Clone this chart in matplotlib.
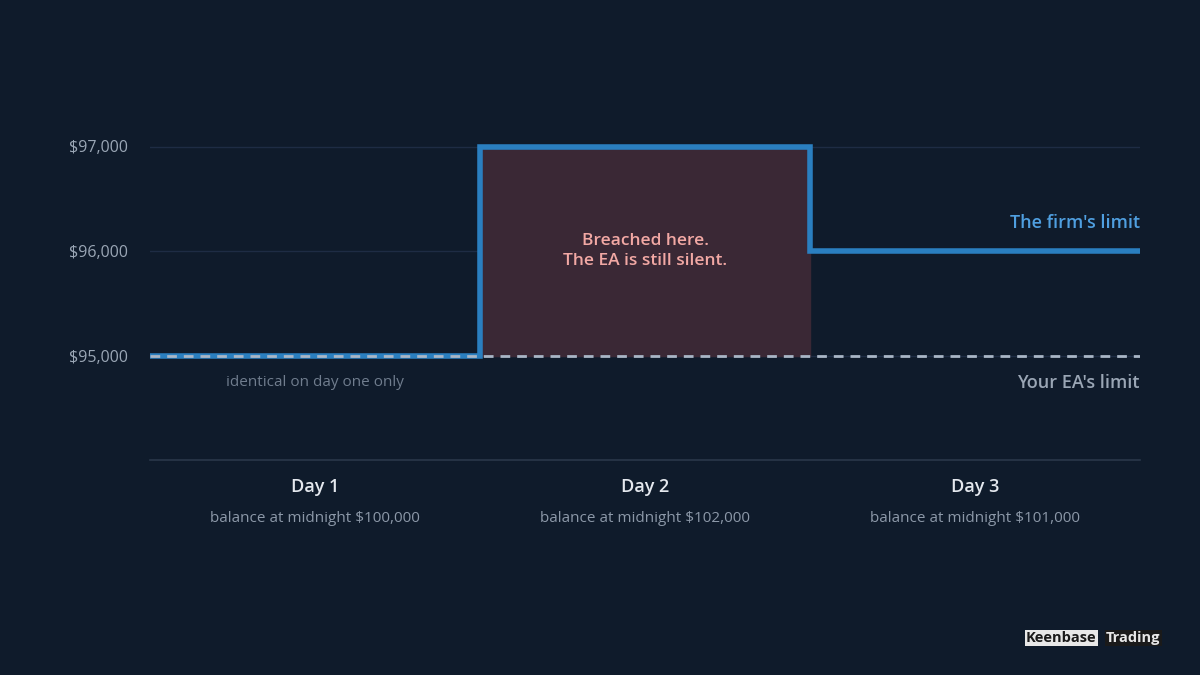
import matplotlib
matplotlib.use("Agg")
import matplotlib.pyplot as plt

plt.rcParams['font.family'] = ['Open Sans', 'DejaVu Sans']

days = ["Day 1", "Day 2", "Day 3"]
balances = ["balance at midnight $100,000", "balance at midnight $102,000", "balance at midnight $101,000"]
firm_limit = [95000, 97000, 96000]
ea_limit = [95000, 95000, 95000]
yticks = [95000, 96000, 97000]
ytick_labels = ["$95,000", "$96,000", "$97,000"]

BG = "#0f1b2b"
fig = plt.figure(figsize=(12, 6.75), dpi=100, facecolor=BG)
ax = fig.add_axes([150/1200, (675-460)/675, 990/1200, (460-42)/675], facecolor=BG)
ax.set_xlim(0, 3)
ax.set_ylim(94000, 98000)

for y in yticks:
    ax.axhline(y, color="#1e2c44", lw=1, zorder=0)

# breach shading on day 2
ax.fill_between([1, 2], ea_limit[1], firm_limit[1], color="#3a2835", zorder=1)

edges = list(range(len(firm_limit) + 1))
ax.stairs(firm_limit, edges, baseline=None, color="#2a7fc0", lw=4, zorder=3)
ax.stairs(ea_limit, edges, baseline=None, color="#a9b6c6", lw=2, ls=(0, (3.5, 2.5)), zorder=4)

ax.text(1.5, 96000, "Breached here.\nThe EA is still silent.", color="#f2a8a4",
        ha="center", va="center", fontsize=12.5, fontweight="semibold", linespacing=1.4, zorder=5)
ax.text(3, 96270, "The firm's limit", color="#4f9fe0", ha="right", va="center",
        fontsize=13, fontweight="semibold")
ax.text(3, 94740, "Your EA's limit", color="#9aa6b5", ha="right", va="center",
        fontsize=13, fontweight="semibold")
ax.text(0.5, 94740, "identical on day one only", color="#707d8e", ha="center", va="center", fontsize=11)

ax.set_yticks(yticks)
ax.set_yticklabels(ytick_labels, color="#9aa6b5", fontsize=11.5)
ax.tick_params(axis="y", length=0, pad=16)
ax.set_xticks([])
for s in ["top", "right", "left"]:
    ax.spines[s].set_visible(False)
ax.spines["bottom"].set_color("#2a374a")
ax.spines["bottom"].set_linewidth(1.2)

for i, (d, b) in enumerate(zip(days, balances)):
    ax.text(i + 0.5, 93740, d, color="#e4e8ee", ha="center", va="center",
            fontsize=13, fontweight="semibold", clip_on=False)
    ax.text(i + 0.5, 93440, b, color="#8c98a8", ha="center", va="center",
            fontsize=11, clip_on=False)

fig.text(1026/1200, 1 - 638/675, "Keenbase", color="#1a1a1a", fontsize=10.5, fontweight="bold",
         ha="left", va="center", bbox=dict(boxstyle="square,pad=0.1", fc="#e8e8e8", ec="none"))
fig.text(1106/1200, 1 - 638/675, "Trading", color="#e8e8e8", fontsize=10.5, fontweight="bold",
         ha="left", va="center", bbox=dict(boxstyle="square,pad=0.1", fc="#1a1a1a", ec="none"))

fig.savefig("out.png", facecolor=BG)
